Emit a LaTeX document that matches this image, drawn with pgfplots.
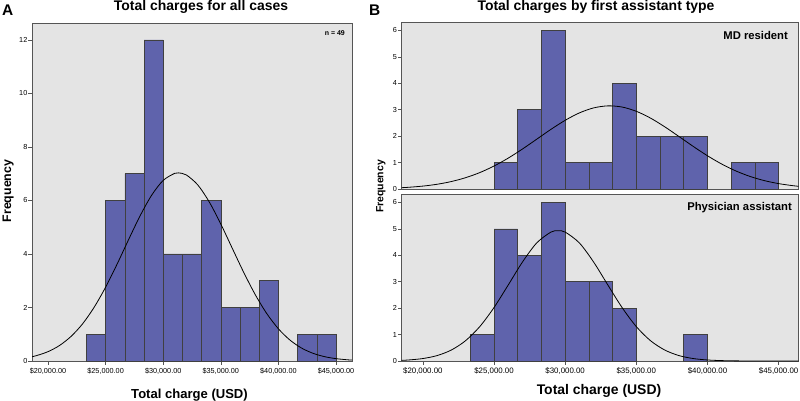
\documentclass[border=0pt]{standalone}
\usepackage{pgfplots}
\pgfplotsset{compat=1.18}
\usepackage{fontspec}
\setmainfont{Liberation Sans}
\definecolor{bgcol}{RGB}{228,228,228}
\definecolor{barcol}{RGB}{95,99,172}
\definecolor{framecol}{RGB}{85,85,85}
\pgfplotsset{
  hstyle/.style={
    scale only axis,
    axis background/.style={fill=bgcol},
    axis line style={draw=framecol, line width=0.7bp},
    tick style={draw=framecol, line width=0.6bp},
    tick align=outside,
    major tick length=3.5bp,
    tick pos=left,
    ymin=0,
    scaled x ticks=false,
    scaled y ticks=false,
    /pgf/number format/assume math mode=true,
    yticklabel style={font=\fontsize{7.3}{8}\selectfont, inner sep=1bp},
    xticklabel style={font=\fontsize{7.3}{8}\selectfont, inner sep=0pt, yshift=-3bp},
    clip=true,
  },
  barsty/.style={ybar interval, fill=barcol, draw=black!75, line width=0.6bp},
  curvesty/.style={black, line width=0.8bp, smooth, mark=none},
}
\begin{document}
\begin{tikzpicture}[x=1bp,y=1bp]
\useasboundingbox (0,0) rectangle (800,400);

% ---------------- Panel A ----------------
\begin{axis}[hstyle,
  at={(32bp,39bp)}, anchor=south west,
  width=320bp, height=338bp,
  xmin=18611, xmax=46389, ymax=12.63,
  ytick={0,2,4,6,8,10,12},
  xtick={20000,25000,30000,35000,40000,45000},
  xticklabels={{\$20,000.00},{\$25,000.00},{\$30,000.00},{\$35,000.00},{\$40,000.00},{\$45,000.00}},
]
\addplot[barsty] coordinates {(23333.33,1) (25000,6) (26666.67,7) (28333.33,12) (30000,4) (31666.67,4) (33333.33,6) (35000,2) (36666.67,2) (38333.33,3) (40000,0)};
\addplot[barsty] coordinates {(41666.67,1) (43333.33,1) (45000,0)};
\addplot[curvesty] coordinates {
(18611,0.160) (19000,0.201) (20000,0.349) (21000,0.580) (22000,0.919) (23000,1.388)
(24000,2.004) (25000,2.758) (26000,3.622) (27000,4.540) (28000,5.430) (29000,6.197)
(30000,6.749) (31000,7.013) (31320,7.030) (32000,6.954) (33000,6.580) (34000,5.941)
(35000,5.119) (36000,4.208) (37000,3.302) (38000,2.472) (39000,1.766) (40000,1.204)
(41000,0.783) (42000,0.486) (43000,0.288) (44000,0.163) (45000,0.088) (46000,0.045) (46389,0.034)};
\end{axis}

% ---------------- Panel B top ----------------
\begin{axis}[hstyle,
  at={(401.5bp,211bp)}, anchor=south west,
  width=397bp, height=167bp,
  xmin=18500, xmax=46400, ymax=6.32,
  ytick={0,1,2,3,4,5,6},
  xtick=\empty,
]
\addplot[barsty] coordinates {(25000,1) (26666.67,3) (28333.33,6) (30000,1) (31666.67,1) (33333.33,4) (35000,2) (36666.67,2) (38333.33,2) (40000,0)};
\addplot[barsty] coordinates {(41666.67,1) (43333.33,1) (45000,0)};
\addplot[curvesty] coordinates {
(18500,0.049) (19000,0.065) (20000,0.110) (21000,0.179) (22000,0.282) (23000,0.427)
(24000,0.621) (25000,0.869) (26000,1.169) (27000,1.513) (28000,1.884) (29000,2.257)
(30000,2.599) (31000,2.880) (32000,3.069) (33000,3.146) (34000,3.102) (35000,2.941)
(36000,2.683) (37000,2.353) (38000,1.986) (39000,1.612) (40000,1.258) (41000,0.945)
(42000,0.682) (43000,0.474) (44000,0.317) (45000,0.204) (46000,0.126) (46400,0.103)};
\end{axis}

% ---------------- Panel B bottom ----------------
\begin{axis}[hstyle,
  at={(401.5bp,39bp)}, anchor=south west,
  width=397bp, height=167bp,
  xmin=18500, xmax=46400, ymax=6.32,
  ytick={0,1,2,3,4,5,6},
  xtick={20000,25000,30000,35000,40000,45000},
  xticklabels={{\$20,000.00},{\$25,000.00},{\$30,000.00},{\$35,000.00},{\$40,000.00},{\$45,000.00}},
  xticklabel style={font=\fontsize{7.9}{8}\selectfont},
]
\addplot[barsty] coordinates {(23333.33,1) (25000,5) (26666.67,4) (28333.33,6) (30000,3) (31666.67,3) (33333.33,2) (35000,0)};
\addplot[barsty] coordinates {(38333.33,1) (40000,0)};
\addplot[curvesty] coordinates {
(18500,0.024) (19000,0.039) (20000,0.093) (21000,0.205) (22000,0.415) (23000,0.768)
(24000,1.302) (25000,2.023) (26000,2.877) (27000,3.746) (28000,4.468) (29000,4.879)
(29500,4.933) (30000,4.879) (31000,4.468) (32000,3.746) (33000,2.877) (34000,2.023)
(35000,1.302) (36000,0.768) (37000,0.415) (38000,0.205) (39000,0.093) (40000,0.039)
(41000,0.015) (42000,0.005) (43000,0.002) (44000,0.0004) (46400,0)};
\end{axis}

% ---------------- Texts ----------------
\node[font=\fontsize{15.5}{16}\selectfont\bfseries, anchor=base west, inner sep=0pt] at (2,385) {A};
\node[font=\fontsize{15.5}{16}\selectfont\bfseries, anchor=base west, inner sep=0pt] at (369,385) {B};
\node[font=\fontsize{14}{15}\selectfont\bfseries, anchor=base, inner sep=0pt] at (201,389) {Total charges for all cases};
\node[font=\fontsize{14}{15}\selectfont\bfseries, anchor=base, inner sep=0pt] at (596,389) {Total charges by first assistant type};
\node[font=\fontsize{7}{8}\selectfont\bfseries, anchor=base east, inner sep=0pt] at (345,364.5) {n = 49};
\node[font=\fontsize{11.3}{12}\selectfont\bfseries, anchor=base east, inner sep=0pt] at (788,361) {MD resident};
\node[font=\fontsize{11.3}{12}\selectfont\bfseries, anchor=base east, inner sep=0pt] at (792,189.5) {Physician assistant};
\node[font=\fontsize{12.4}{13}\selectfont\bfseries, anchor=base, rotate=90, inner sep=0pt] at (11,209) {Frequency};
\node[font=\fontsize{10.5}{11}\selectfont\bfseries, anchor=base, rotate=90, inner sep=0pt] at (383.3,213.5) {Frequency};
\node[font=\fontsize{13.1}{14}\selectfont\bfseries, anchor=base, inner sep=0pt] at (189.5,2) {Total charge (USD)};
\node[font=\fontsize{14}{15}\selectfont\bfseries, anchor=base, inner sep=0pt] at (599,6) {Total charge (USD)};
\end{tikzpicture}
\end{document}
